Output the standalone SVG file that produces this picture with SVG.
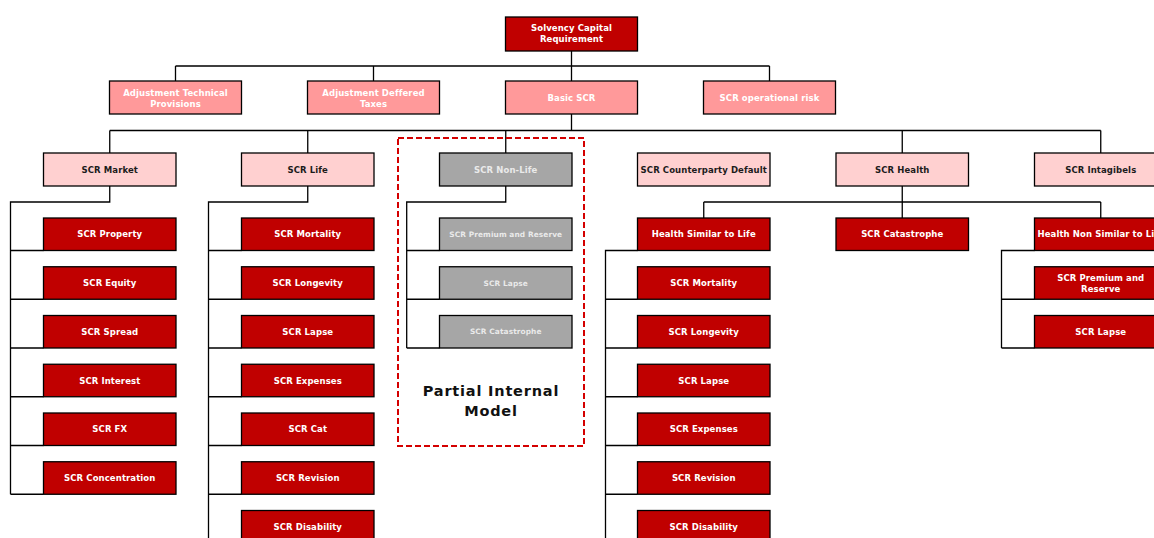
<svg xmlns="http://www.w3.org/2000/svg" width="1154" height="538" viewBox="0 0 1154 538">
<style>
  .b{stroke:#000;stroke-width:1.3}
  .l1{fill:#C00000}
  .l2{fill:#FF999A}
  .l3{fill:#FFD0D0}
  .rd{fill:#C00000}
  .gr{fill:#A6A6A6}
  text{font-family:"DejaVu Sans","Liberation Sans",Arial,sans-serif;font-weight:bold;font-size:8.5px;letter-spacing:0.1px;text-anchor:middle}
  .tw{fill:#FFFFFF}
  .td{fill:#1C1C1C}
  .tg{fill:#EAEAEA}
  .sm{font-size:7.4px}
  .c{fill:none;stroke:#000;stroke-width:1.3}
  .pim{fill:none;stroke:#D40000;stroke-width:2;stroke-dasharray:6 3}
  .big{font-size:14.5px;letter-spacing:0.8px;fill:#111}
</style>

<g id="connectors">
  <!-- level 1 to level 2 -->
  <path class="c" d="M571.5,51 V66 M175.5,66 H769.5 M175.5,66 V81 M373.5,66 V81 M571.5,66 V81 M769.5,66 V81"/>
  <!-- Basic SCR to level 3 -->
  <path class="c" d="M571.5,114 V130.5 M109.75,130.5 H1100.75 M109.75,130.5 V153 M307.75,130.5 V153 M505.75,130.5 V153 M902.25,130.5 V153 M1100.75,130.5 V153"/>
  <!-- Market -->
  <path class="c" d="M109.75,186 V202 H10.5 V494.25 M10.5,250.5 H43.5 M10.5,299.25 H43.5 M10.5,348 H43.5 M10.5,396.75 H43.5 M10.5,445.5 H43.5 M10.5,494.25 H43.5"/>
  <!-- Life -->
  <path class="c" d="M307.75,186 V202 H208.5 V538 M208.5,250.5 H241.5 M208.5,299.25 H241.5 M208.5,348 H241.5 M208.5,396.75 H241.5 M208.5,445.5 H241.5 M208.5,494.25 H241.5"/>
  <!-- Non-Life -->
  <path class="c" d="M505.75,186 V202 H406.7 V348 M406.7,250.5 H439.5 M406.7,299.25 H439.5 M406.7,348 H439.5"/>
  <!-- Health -->
  <path class="c" d="M902.25,186 V202 M703.75,202 H1100.75 M703.75,202 V218 M902.25,202 V218 M1100.75,202 V218"/>
  <!-- Health similar to life -->
  <path class="c" d="M637.5,250.5 H605.5 V538 M605.5,299.25 H637.5 M605.5,348 H637.5 M605.5,396.75 H637.5 M605.5,445.5 H637.5 M605.5,494.25 H637.5"/>
  <!-- Health non similar to life -->
  <path class="c" d="M1034.5,250.5 H1001.5 V348 M1001.5,299.25 H1034.5 M1001.5,348 H1034.5"/>
</g>

<g id="partial-internal-model">
  <rect class="pim" x="398" y="138" width="186" height="308"/>
  <text class="big" x="491" y="395.7">Partial Internal</text>
  <text class="big" x="491" y="416">Model</text>
</g>

<g id="scr">
  <rect class="b l1" x="505.5" y="17" width="132" height="34"/>
  <text class="tw" x="571.5" y="31.4">Solvency Capital</text>
  <text class="tw" x="571.5" y="42.4">Requirement</text>
</g>

<g id="adj-tp">
  <rect class="b l2" x="109.5" y="81" width="132" height="33"/>
  <text class="tw" x="175.5" y="96.4">Adjustment Technical</text>
  <text class="tw" x="175.5" y="107.4">Provisions</text>
</g>
<g id="adj-dt">
  <rect class="b l2" x="307.5" y="81" width="132" height="33"/>
  <text class="tw" x="373.5" y="96.4">Adjustment Deffered</text>
  <text class="tw" x="373.5" y="107.4">Taxes</text>
</g>
<g id="basic-scr">
  <rect class="b l2" x="505.5" y="81" width="132" height="33"/>
  <text class="tw" x="571.5" y="100.6">Basic SCR</text>
</g>
<g id="scr-op">
  <rect class="b l2" x="703.5" y="81" width="132" height="33"/>
  <text class="tw" x="769.5" y="100.6">SCR operational risk</text>
</g>

<g id="scr-market">
  <rect class="b l3" x="43.5" y="153" width="132.5" height="33"/>
  <text class="td" x="109.75" y="172.6">SCR Market</text>
</g>
<g id="scr-life">
  <rect class="b l3" x="241.5" y="153" width="132.5" height="33"/>
  <text class="td" x="307.75" y="172.6">SCR Life</text>
</g>
<g id="scr-nonlife">
  <rect class="b gr" x="439.5" y="153" width="132.5" height="33"/>
  <text class="tg" x="505.75" y="172.6">SCR Non-Life</text>
</g>
<g id="scr-cpd">
  <rect class="b l3" x="637.5" y="153" width="132.5" height="33"/>
  <text class="td" x="703.75" y="172.6">SCR Counterparty Default</text>
</g>
<g id="scr-health">
  <rect class="b l3" x="836" y="153" width="132.5" height="33"/>
  <text class="td" x="902.25" y="172.6">SCR Health</text>
</g>
<g id="scr-intangibles">
  <rect class="b l3" x="1034.5" y="153" width="132.5" height="33"/>
  <text class="td" x="1100.75" y="172.6">SCR Intagibels</text>
</g>

<!-- Market children -->
<g id="mkt-property"><rect class="b rd" x="43.5" y="218" width="132.5" height="32.5"/><text class="tw" x="109.75" y="237.35">SCR Property</text></g>
<g id="mkt-equity"><rect class="b rd" x="43.5" y="266.75" width="132.5" height="32.5"/><text class="tw" x="109.75" y="286.1">SCR Equity</text></g>
<g id="mkt-spread"><rect class="b rd" x="43.5" y="315.5" width="132.5" height="32.5"/><text class="tw" x="109.75" y="334.85">SCR Spread</text></g>
<g id="mkt-interest"><rect class="b rd" x="43.5" y="364.25" width="132.5" height="32.5"/><text class="tw" x="109.75" y="383.6">SCR Interest</text></g>
<g id="mkt-fx"><rect class="b rd" x="43.5" y="413" width="132.5" height="32.5"/><text class="tw" x="109.75" y="432.35">SCR FX</text></g>
<g id="mkt-conc"><rect class="b rd" x="43.5" y="461.75" width="132.5" height="32.5"/><text class="tw" x="109.75" y="481.1">SCR Concentration</text></g>

<!-- Life children -->
<g id="life-mortality"><rect class="b rd" x="241.5" y="218" width="132.5" height="32.5"/><text class="tw" x="307.75" y="237.35">SCR Mortality</text></g>
<g id="life-longevity"><rect class="b rd" x="241.5" y="266.75" width="132.5" height="32.5"/><text class="tw" x="307.75" y="286.1">SCR Longevity</text></g>
<g id="life-lapse"><rect class="b rd" x="241.5" y="315.5" width="132.5" height="32.5"/><text class="tw" x="307.75" y="334.85">SCR Lapse</text></g>
<g id="life-expenses"><rect class="b rd" x="241.5" y="364.25" width="132.5" height="32.5"/><text class="tw" x="307.75" y="383.6">SCR Expenses</text></g>
<g id="life-cat"><rect class="b rd" x="241.5" y="413" width="132.5" height="32.5"/><text class="tw" x="307.75" y="432.35">SCR Cat</text></g>
<g id="life-revision"><rect class="b rd" x="241.5" y="461.75" width="132.5" height="32.5"/><text class="tw" x="307.75" y="481.1">SCR Revision</text></g>
<g id="life-disability"><rect class="b rd" x="241.5" y="510.5" width="132.5" height="32.5"/><text class="tw" x="307.75" y="529.85">SCR Disability</text></g>

<!-- Non-life children -->
<g id="nl-premres"><rect class="b gr" x="439.5" y="218" width="132.5" height="32.5"/><text class="tg sm" x="505.75" y="236.95">SCR Premium and Reserve</text></g>
<g id="nl-lapse"><rect class="b gr" x="439.5" y="266.75" width="132.5" height="32.5"/><text class="tg sm" x="505.75" y="285.7">SCR Lapse</text></g>
<g id="nl-cat"><rect class="b gr" x="439.5" y="315.5" width="132.5" height="32.5"/><text class="tg sm" x="505.75" y="334.45">SCR Catastrophe</text></g>

<!-- Health children -->
<g id="h-sim"><rect class="b rd" x="637.5" y="218" width="132.5" height="32.5"/><text class="tw" x="703.75" y="237.35">Health Similar to Life</text></g>
<g id="h-cat"><rect class="b rd" x="836" y="218" width="132.5" height="32.5"/><text class="tw" x="902.25" y="237.35">SCR Catastrophe</text></g>
<g id="h-nonsim"><rect class="b rd" x="1034.5" y="218" width="132.5" height="32.5"/><text class="tw" x="1100.75" y="237.35">Health Non Similar to Life</text></g>

<!-- Health similar to life children -->
<g id="hs-mortality"><rect class="b rd" x="637.5" y="266.75" width="132.5" height="32.5"/><text class="tw" x="703.75" y="286.1">SCR Mortality</text></g>
<g id="hs-longevity"><rect class="b rd" x="637.5" y="315.5" width="132.5" height="32.5"/><text class="tw" x="703.75" y="334.85">SCR Longevity</text></g>
<g id="hs-lapse"><rect class="b rd" x="637.5" y="364.25" width="132.5" height="32.5"/><text class="tw" x="703.75" y="383.6">SCR Lapse</text></g>
<g id="hs-expenses"><rect class="b rd" x="637.5" y="413" width="132.5" height="32.5"/><text class="tw" x="703.75" y="432.35">SCR Expenses</text></g>
<g id="hs-revision"><rect class="b rd" x="637.5" y="461.75" width="132.5" height="32.5"/><text class="tw" x="703.75" y="481.1">SCR Revision</text></g>
<g id="hs-disability"><rect class="b rd" x="637.5" y="510.5" width="132.5" height="32.5"/><text class="tw" x="703.75" y="529.85">SCR Disability</text></g>

<!-- Health non similar children -->
<g id="hn-premres"><rect class="b rd" x="1034.5" y="266.75" width="132.5" height="32.5"/><text class="tw" x="1100.75" y="280.6">SCR Premium and</text><text class="tw" x="1100.75" y="291.6">Reserve</text></g>
<g id="hn-lapse"><rect class="b rd" x="1034.5" y="315.5" width="132.5" height="32.5"/><text class="tw" x="1100.75" y="334.85">SCR Lapse</text></g>
</svg>
